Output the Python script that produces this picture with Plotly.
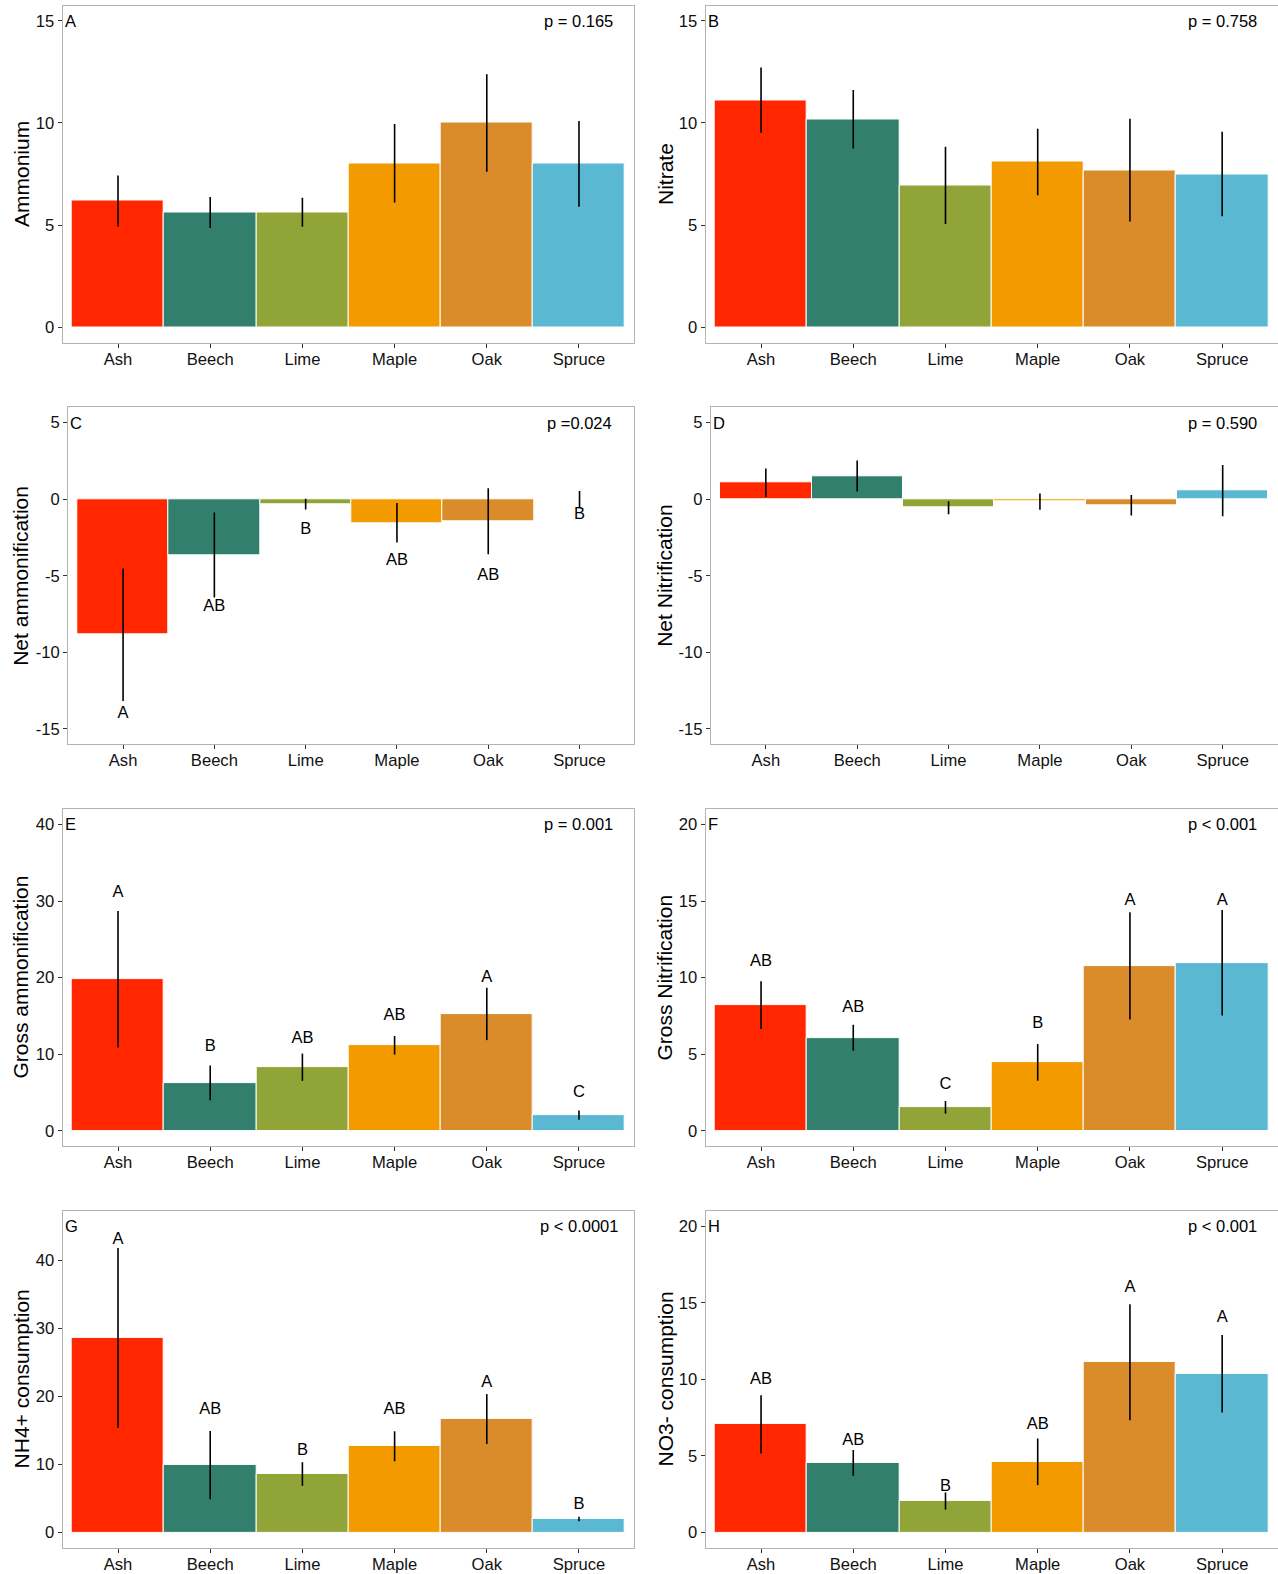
import plotly.graph_objects as go

# ---------------- data ----------------
categories = ["Ash", "Beech", "Lime", "Maple", "Oak", "Spruce"]
bar_colors = ["#FF2600", "#327F6E", "#91A437", "#F29A00", "#DA8B2A", "#5BB8D3"]

ammonium_mean = [6.18, 5.62, 5.63, 8.03, 10.0, 8.0]
ammonium_se = [1.25, 0.76, 0.71, 1.92, 2.39, 2.10]

nitrate_mean = [11.12, 10.18, 6.94, 8.09, 7.69, 7.50]
nitrate_se = [1.60, 1.43, 1.89, 1.63, 2.52, 2.07]

net_amm_mean = [-8.85, -3.64, -0.32, -1.54, -1.44, -0.03]
net_amm_se = [4.32, 2.78, 0.35, 1.29, 2.16, 0.56]
net_amm_letters = ["A", "AB", "B", "AB", "AB", "B"]
net_amm_letter_y = [-14, -7, -2, -4, -5, -1]

net_nit_mean = [1.08, 1.51, -0.56, -0.16, -0.39, 0.56]
net_nit_se = [0.93, 1.01, 0.43, 0.53, 0.67, 1.67]

gross_amm_mean = [19.78, 6.25, 8.30, 11.16, 15.25, 2.04]
gross_amm_se = [8.90, 2.26, 1.78, 1.21, 3.41, 0.61]
gross_amm_letters = ["A", "B", "AB", "AB", "A", "C"]
gross_amm_letter_y = [31, 11, 12, 15, 20, 5]

gross_nit_mean = [8.20, 6.07, 1.53, 4.47, 10.76, 10.97]
gross_nit_se = [1.56, 0.85, 0.41, 1.20, 3.50, 3.45]
gross_nit_letters = ["AB", "AB", "C", "B", "A", "A"]
gross_nit_letter_y = [11, 8, 3, 7, 15, 15]

nh4_cons_mean = [28.6, 9.90, 8.60, 12.68, 16.68, 2.0]
nh4_cons_se = [13.2, 5.02, 1.73, 2.20, 3.66, 0.34]
nh4_cons_letters = ["A", "AB", "B", "AB", "A", "B"]
nh4_cons_letter_y = [43, 18, 12, 18, 22, 4]

no3_cons_mean = [7.07, 4.55, 2.06, 4.62, 11.12, 10.37]
no3_cons_se = [1.90, 0.84, 0.56, 1.52, 3.78, 2.53]
no3_cons_letters = ["AB", "AB", "B", "AB", "A", "A"]
no3_cons_letter_y = [10, 6, 3, 7, 16, 14]

ticks_15 = [0, 5, 10, 15]
ticks_net = [-15, -10, -5, 0, 5]
ticks_net_text = ["-15", "-10", "-5", "0", "5"]
ticks_40 = [0, 10, 20, 30, 40]
ticks_20 = [0, 5, 10, 15, 20]

panels = [
    dict(tag="A", title="Ammonium", mean=ammonium_mean, se=ammonium_se, letters=None, ly=None,
         rng=[-0.75, 15.75], top=15, tv=ticks_15, tt=None, p="p = 0.165"),
    dict(tag="B", title="Nitrate", mean=nitrate_mean, se=nitrate_se, letters=None, ly=None,
         rng=[-0.75, 15.75], top=15, tv=ticks_15, tt=None, p="p = 0.758"),
    dict(tag="C", title="Net ammonification", mean=net_amm_mean, se=net_amm_se,
         letters=net_amm_letters, ly=net_amm_letter_y,
         rng=[-16, 6], top=5, tv=ticks_net, tt=ticks_net_text, p="p =0.024"),
    dict(tag="D", title="Net Nitrification", mean=net_nit_mean, se=net_nit_se, letters=None, ly=None,
         rng=[-16, 6], top=5, tv=ticks_net, tt=ticks_net_text, p="p = 0.590"),
    dict(tag="E", title="Gross ammonification", mean=gross_amm_mean, se=gross_amm_se,
         letters=gross_amm_letters, ly=gross_amm_letter_y,
         rng=[-2, 42], top=40, tv=ticks_40, tt=None, p="p = 0.001"),
    dict(tag="F", title="Gross Nitrification", mean=gross_nit_mean, se=gross_nit_se,
         letters=gross_nit_letters, ly=gross_nit_letter_y,
         rng=[-1, 21], top=20, tv=ticks_20, tt=None, p="p < 0.001"),
    dict(tag="G", title="NH4+ consumption", mean=nh4_cons_mean, se=nh4_cons_se,
         letters=nh4_cons_letters, ly=nh4_cons_letter_y,
         rng=[-2.25, 47.25], top=45, tv=ticks_40, tt=None, p="p < 0.0001"),
    dict(tag="H", title="NO3- consumption", mean=no3_cons_mean, se=no3_cons_se,
         letters=no3_cons_letters, ly=no3_cons_letter_y,
         rng=[-1, 21], top=20, tv=ticks_20, tt=None, p="p < 0.001"),
]

# ---------------- layout geometry (pixels) ----------------
W, H = 1278, 1574
row_tops = [5.5, 407.3, 809.1, 1210.9]
box_h = 337.0
left_cols = {0: (62.7, 634.3), 1: (705.7, 1277.5)}
wide_label_left = {0: 68.3, 1: 711.0}
title_x = {0: 21.0, 1: 665.0}

FONT = "Liberation Sans, Arial, Helvetica, sans-serif"
TXT = "#111111"

fig = go.Figure()
annotations = []
layout_axes = {}

for i, p in enumerate(panels):
    n = i + 1
    row, col = divmod(i, 2)
    xa = "x" if n == 1 else f"x{n}"
    ya = "y" if n == 1 else f"y{n}"
    l, r = left_cols[col]
    if p["tt"] is not None:
        l = wide_label_left[col]
    t = row_tops[row]
    b = t + box_h

    fig.add_trace(go.Bar(
        x=categories, y=p["mean"], width=1,
        marker=dict(color=bar_colors, line=dict(color="white", width=1)),
        error_y=dict(type="data", array=p["se"], visible=True, width=0,
                     thickness=1.6, color="black"),
        xaxis=xa, yaxis=ya, showlegend=False, hoverinfo="skip",
    ))
    if p["letters"] is not None:
        fig.add_trace(go.Scatter(
            x=categories, y=p["ly"], mode="text", text=p["letters"],
            textposition="middle center",
            textfont=dict(size=16.5, color="black", family=FONT),
            xaxis=xa, yaxis=ya, showlegend=False, hoverinfo="skip",
        ))

    axis_common = dict(showline=True, mirror=True, linecolor="#b3b3b3", linewidth=1.3,
                       ticks="outside", ticklen=4, tickwidth=1, tickcolor="#333333",
                       tickfont=dict(size=16.6, color=TXT, family=FONT),
                       showgrid=False, zeroline=False, fixedrange=True, automargin=False)
    layout_axes["xaxis" if n == 1 else f"xaxis{n}"] = dict(
        domain=[l / W, r / W], anchor=ya, type="category",
        categoryorder="array", categoryarray=categories,
        range=[-0.6, 5.6], ticklabelstandoff=-3, **axis_common)
    ydict = dict(domain=[1 - b / H, 1 - t / H], anchor=xa, range=p["rng"],
                 tickmode="array", tickvals=p["tv"], **axis_common)
    if p["tt"] is not None:
        ydict["ticktext"] = p["tt"]
    layout_axes["yaxis" if n == 1 else f"yaxis{n}"] = ydict

    # panel tag
    annotations.append(dict(text=p["tag"], xref=f"{xa} domain", yref=ya, x=0, y=p["top"],
                            xanchor="left", yanchor="middle", showarrow=False,
                            font=dict(size=16.5, color="black", family=FONT)))
    # p-value
    annotations.append(dict(text=p["p"], xref=xa, yref=ya, x="Spruce", y=p["top"],
                            xanchor="center", yanchor="middle", showarrow=False,
                            font=dict(size=16.5, color="black", family=FONT)))
    # y title
    annotations.append(dict(text=p["title"], xref="paper", yref="paper",
                            x=title_x[col] / W, y=1 - (t + b) / 2 / H,
                            xanchor="center", yanchor="middle", textangle=-90,
                            showarrow=False, font=dict(size=21, color="black", family=FONT)))

fig.update_layout(
    width=W, height=H, margin=dict(l=0, r=0, t=0, b=0),
    paper_bgcolor="white", plot_bgcolor="white",
    template="none", showlegend=False, bargap=0,
    font=dict(family=FONT, color=TXT),
    annotations=annotations, **layout_axes,
)

fig.write_html("out.html")
